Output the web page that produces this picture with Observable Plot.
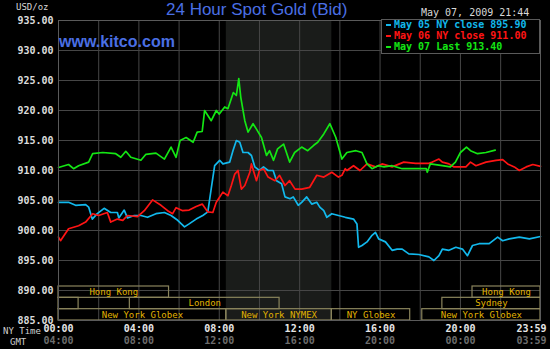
<!DOCTYPE html>
<html><head><meta charset="utf-8">
<script src="https://cdn.jsdelivr.net/npm/d3@7"></script>
<script src="https://cdn.jsdelivr.net/npm/@observablehq/plot@0.6"></script>
<style>
html,body{margin:0;padding:0;background:#000;}
#wrap{position:relative;width:550px;height:349px;overflow:hidden;background:#000;}
.abs{position:absolute;white-space:pre;line-height:10px;font-family:"DejaVu Sans Mono",monospace;font-size:10px;}
.lg{display:flex;align-items:center;}
.dash{display:inline-block;width:5px;height:2px;margin-right:3px;}
</style></head>
<body><div id="wrap"></div>
<script>
// ---------- data ----------
const titleText = "24 Hour Spot Gold (Bid)";
const siteText = "www.kitco.com";
const unitText = "USD/oz";
const stampText = "May 07, 2009 21:44";
const legendLabels = ["May 05 NY close 895.90", "May 06 NY close 911.00", "May 07 Last 913.40"];

const yTicks = [885, 890, 895, 900, 905, 910, 915, 920, 925, 930, 935];
const gridHours = [0, 2, 4, 6, 8, 10, 12, 14, 16, 18, 20, 22, 23.983];
const xLabelHours = [0, 4, 8, 12, 16, 20];
const nyLabels = ["00:00", "04:00", "08:00", "12:00", "16:00", "20:00"];
const gmtLabels = ["04:00", "08:00", "12:00", "16:00", "20:00", "00:00"];
const lastHour = [23.983];
const lastNy = ["23:59"];
const lastGmt = ["03:59"];

const nymexOpen = [{open: 8.35, close: 13.6}];

const sessionNames = ["", "London", "Hong Kong", "New York Globex", "New York NYMEX", "NY Globex", "New York Globex", "Sydney", "Hong Kong"];
const sessionStart = [0, 3.55, 0, 0, 8.35, 13.6, 18.1, 19.1, 20.6];
const sessionEnd   = [1.0, 11.0, 5.5, 8.35, 13.6, 17.5, 23.983, 23.983, 23.983];
const sessionRow   = [1, 1, 2, 0, 0, 0, 0, 1, 2];

const may05Hours = [0,0.5,0.85,1.35,1.5,1.68,1.93,2.27,2.6,2.93,3.0,3.27,3.43,3.77,4.1,4.43,4.85,5.27,5.6,5.93,6.27,6.5,6.85,7.18,7.43,7.6,7.77,8.02,8.18,8.52,8.68,8.85,9.02,9.18,9.43,9.6,9.77,10.0,10.2,10.43,10.68,10.85,11.1,11.27,11.52,11.68,11.93,12.1,12.35,12.6,12.85,13.0,13.2,13.35,13.6,13.93,14.27,14.68,14.85,14.93,15.1,15.35,15.6,15.77,15.93,16.27,16.6,16.85,17.1,17.43,17.93,18.43,18.68,18.93,19.1,19.43,19.77,20.1,20.35,20.6,20.93,21.43,21.85,22.1,22.43,22.93,23.43,23.983];
const may05Prices = [904.7,904.7,904.2,904.3,903.9,901.9,902.8,903.7,903,903,902.1,903.4,902.1,902.5,902.5,902.2,902.8,903,902.5,901.7,900.6,901.1,901.9,902.5,903.1,907,910.8,911.7,911.1,911.4,913.3,915,914.7,913,913,912.5,910.6,910,910.6,910,910,908.3,907.8,905.6,905.3,905.6,904.2,904.7,905.6,904.4,904.7,903.9,903.3,902.2,902.8,902.5,902.2,901.9,901.1,897.2,897.5,898.1,899.2,899.7,898.6,898.1,896.7,896.9,896.9,896.1,896,895.6,895,895.8,896.9,896.7,897.2,896.9,895.8,897.5,897.8,897.8,898.9,898.3,898.6,898.9,898.6,899];

const may06Hours = [0,0.1,0.5,1,1.35,1.7,2.0,2.43,2.6,2.93,3.2,3.43,3.93,4.27,4.68,5.1,5.43,5.68,5.85,6.18,6.5,6.85,7.15,7.43,7.68,7.85,8.18,8.43,8.6,8.77,8.93,9.1,9.27,9.52,9.6,9.85,10.0,10.2,10.43,10.77,11.0,11.27,11.5,11.77,12.1,12.5,12.85,13.2,13.6,13.93,14.1,14.27,14.35,14.68,15.0,15.35,15.77,16.1,16.6,17.18,17.77,18.43,18.6,18.93,19.1,19.43,19.68,20.0,20.27,20.5,20.77,21.27,21.77,22.1,22.35,22.68,22.93,23.27,23.6,23.983];
const may06Prices = [898.9,898.3,900.3,900.8,901.4,902.8,902.5,903,901.4,901.9,901.7,902.5,902.3,903.3,905.1,904.2,903.3,902.8,903.8,903.3,903.4,904,904.4,903.1,903,904.7,906.4,905.8,907.5,909.4,910,906.9,907.5,909.7,911.1,908.3,910,910.3,908.9,908.3,909.2,907.5,908.3,906.9,906.9,907.2,909.2,908.9,909.7,908.9,909.2,910.3,910,910.8,910,911.1,910.6,911.1,910.6,911.4,911.2,911.2,911.4,911.9,911.4,911.1,910.6,910.6,910.6,911.4,910.8,911.4,911.7,911.8,911.1,910.6,910,910.6,911,910.7];

const may07Hours = [0,0.5,0.75,1,1.5,1.7,2.2,2.85,3.1,3.35,3.6,4.1,4.35,4.85,5.27,5.6,5.85,6.05,6.35,6.7,6.9,7.15,7.27,7.6,7.85,8.0,8.27,8.43,8.7,8.85,8.97,9.07,9.27,9.43,9.68,9.85,10.1,10.35,10.5,10.7,10.9,11.2,11.5,11.75,12.1,12.4,12.7,12.9,13.2,13.5,13.8,14.1,14.35,14.8,15.1,15.35,15.6,15.9,16.2,16.6,17.1,17.8,18.3,18.35,18.5,19.1,19.5,19.75,20,20.3,20.5,20.85,21.27,21.73];
const may07Prices = [910.5,911,910.3,910.8,911.4,912.8,913,912.8,912.2,913.2,912.2,911.7,912.7,912.9,911.9,913.9,912.2,915,915.5,914.7,916.4,916.5,920,918.3,920,919.4,920.6,920.3,923,922.5,925.3,922.2,918.3,916.4,917.8,916.9,915.5,912.5,913.3,911.7,913.6,914.4,911.4,913,913.9,913.3,914.2,914.7,916.1,917.8,915.5,911.9,913,913.3,913,911.1,910.3,910.8,910.6,910.8,910.3,910.3,910.3,909.7,911.1,910.8,910.6,911.4,913,913.9,913.3,912.8,913,913.4];

// ---------- styles ----------
const C05 = "#12b8ec", C06 = "#ff1414", C07 = "#14e614";
const GRID = "#464646", SESS = "#8a845c", SESST = "#e2b400";
const MONO = "DejaVu Sans Mono, monospace";
const rowH = 1.889;

const sessions = sessionNames.map((n, i) => ({name: n, start: sessionStart[i], end: sessionEnd[i], row: sessionRow[i]}));

const chart = Plot.plot({
  width: 550, height: 349,
  marginLeft: 58, marginRight: 10, marginTop: 20, marginBottom: 29,
  style: {background: "#000", color: "#dcdcdc", fontFamily: MONO, fontSize: "10px", overflow: "visible"},
  x: {domain: [0, 23.983], axis: null},
  y: {domain: [885, 935], axis: null},
  marks: [
    Plot.rect(nymexOpen, {x1: "open", x2: "close", fill: "#1a1c1a"}),
    Plot.ruleY(yTicks, {stroke: GRID, strokeWidth: 1}),
    Plot.ruleX(gridHours, {stroke: GRID, strokeWidth: 1}),
    Plot.rect(sessions, {x1: "start", x2: "end", y1: d => 885 + d.row * rowH, y2: d => 885 + (d.row + 1) * rowH, stroke: SESS, strokeWidth: 1.2, fill: "none"}),
    Plot.text(sessions, {x: d => (d.start + d.end) / 2, y: d => 885 + (d.row + 0.5) * rowH, text: "name", fill: SESST, fontSize: 9, fontFamily: MONO}),
    Plot.line(may05Prices, {x: may05Hours, y: may05Prices, stroke: C05, strokeWidth: 1.7}),
    Plot.line(may06Prices, {x: may06Hours, y: may06Prices, stroke: C06, strokeWidth: 1.7}),
    Plot.line(may07Prices, {x: may07Hours, y: may07Prices, stroke: C07, strokeWidth: 1.7}),
    Plot.frame({stroke: "#5a5a5a"}),
    Plot.axisY({ticks: yTicks, tickSize: 0, tickPadding: 5, tickFormat: d3.format(".2f"), label: null, fill: "#dcdcdc", fontSize: 10, fontWeight: "bold"}),
    Plot.text(nyLabels, {x: xLabelHours, text: nyLabels, frameAnchor: "bottom", dy: 11, fill: "#e6e6e6", fontSize: 10, fontWeight: "bold"}),
    Plot.text(gmtLabels, {x: xLabelHours, text: gmtLabels, frameAnchor: "bottom", dy: 23, fill: "#6c6c6c", fontSize: 10, fontWeight: "bold"}),
    Plot.text(lastNy, {x: lastHour, text: lastNy, frameAnchor: "bottom", dy: 11, dx: 6, textAnchor: "end", fill: "#e6e6e6", fontSize: 10, fontWeight: "bold"}),
    Plot.text(lastGmt, {x: lastHour, text: lastGmt, frameAnchor: "bottom", dy: 23, dx: 6, textAnchor: "end", fill: "#6c6c6c", fontSize: 10, fontWeight: "bold"})
  ]
});

const wrap = document.getElementById("wrap");
chart.style.position = "absolute";
chart.style.left = "0px";
chart.style.top = "0px";
wrap.appendChild(chart);

function addDiv(text, css, cls = "abs") {
  const d = document.createElement("div");
  d.className = cls;
  d.textContent = text;
  Object.assign(d.style, css);
  wrap.appendChild(d);
  return d;
}

addDiv(titleText, {left: "166px", top: "1px", fontFamily: "Liberation Sans, Arial, sans-serif", fontSize: "17px", lineHeight: "17px", color: "#4a6fe4"});
addDiv(siteText, {left: "59px", top: "34px", fontFamily: "Liberation Sans, Arial, sans-serif", fontWeight: "bold", fontSize: "16px", lineHeight: "16px", color: "#4a6fe4"});
addDiv(unitText, {left: "16px", top: "2px", color: "#d8d8d8", fontSize: "9px"});
addDiv(stampText, {left: "421px", top: "8px", color: "#d8d8d8"});
addDiv("NY Time", {left: "3px", top: "327px", color: "#d0d0d0", fontSize: "9px", lineHeight: "9px"});
addDiv("GMT", {left: "10px", top: "338px", color: "#d0d0d0", fontSize: "9px", lineHeight: "9px"});

const box = document.createElement("div");
Object.assign(box.style, {position: "absolute", left: "381px", top: "19px", width: "159px", height: "35px", background: "#000", border: "1px solid #5a5a5a", boxSizing: "border-box"});
wrap.appendChild(box);
const legendColors = [C05, C06, C07];
const legendTops = [20, 31, 42];
legendLabels.forEach((t, i) => {
  const d = document.createElement("div");
  d.className = "abs lg";
  Object.assign(d.style, {left: "386px", top: legendTops[i] + "px", color: legendColors[i], fontWeight: "bold"});
  const s = document.createElement("span");
  s.className = "dash";
  s.style.background = legendColors[i];
  d.appendChild(s);
  d.appendChild(document.createTextNode(t));
  wrap.appendChild(d);
});
</script></body></html>
